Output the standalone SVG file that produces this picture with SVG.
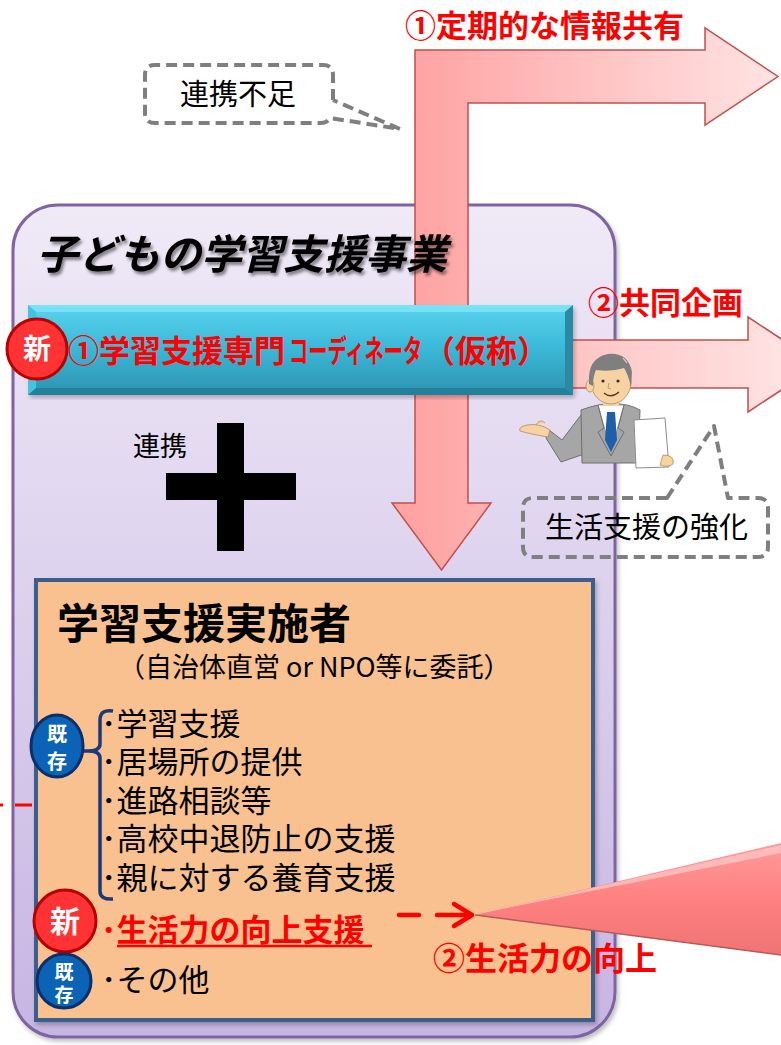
<svg xmlns="http://www.w3.org/2000/svg" width="781" height="1045" viewBox="0 0 781 1045">
  <defs>
    <style>
      .jp { font-family: "Noto Sans CJK JP", "Noto Sans", sans-serif; }
      .red { fill: #ff0000; font-weight: 700; }
      .item { font-size: 31px; fill: #000; }
      .badge { fill: #fff; font-weight: 700; text-anchor: middle; }
      .callout { fill: none; stroke: #7f7f7f; stroke-width: 4; stroke-dasharray: 11 6; stroke-linejoin: round; }
      .pinkEdge { stroke: #c0504d; stroke-width: 1.5; }
    </style>
    <linearGradient id="purpleFill" x1="0" y1="0" x2="0" y2="1">
      <stop offset="0" stop-color="#f0eaf7"/>
      <stop offset="1" stop-color="#c7b5e3"/>
    </linearGradient>
    <linearGradient id="lArrowFill" gradientUnits="userSpaceOnUse" x1="415" y1="0" x2="781" y2="0">
      <stop offset="0" stop-color="#ffa3a3"/>
      <stop offset="1" stop-color="#ffe4e4"/>
    </linearGradient>
    <linearGradient id="planArrowFill" gradientUnits="userSpaceOnUse" x1="560" y1="0" x2="781" y2="0">
      <stop offset="0" stop-color="#ffc2c2"/>
      <stop offset="1" stop-color="#ffe2e2"/>
    </linearGradient>
    <linearGradient id="barFill" x1="0" y1="0" x2="0" y2="1">
      <stop offset="0" stop-color="#5ad3ee"/>
      <stop offset="0.45" stop-color="#3cbad9"/>
      <stop offset="1" stop-color="#2c93b0"/>
    </linearGradient>
    <linearGradient id="coneFill" gradientUnits="userSpaceOnUse" x1="0" y1="845" x2="0" y2="955">
      <stop offset="0" stop-color="#ff9a9a"/>
      <stop offset="0.5" stop-color="#ff8080"/>
      <stop offset="1" stop-color="#f07474"/>
    </linearGradient>
    <filter id="softShadow" x="-5%" y="-5%" width="110%" height="110%">
      <feDropShadow dx="2" dy="3" stdDeviation="2" flood-color="#000" flood-opacity="0.25"/>
    </filter>
    <filter id="titleShadow" x="-5%" y="-20%" width="110%" height="150%">
      <feDropShadow dx="2" dy="3" stdDeviation="1.5" flood-color="#000" flood-opacity="0.45"/>
    </filter>
  </defs>

  <rect width="781" height="1045" fill="#ffffff"/>

  <!-- outer programme frame -->
  <g id="program-frame">
    <rect x="13" y="205" width="602" height="832" rx="45" fill="url(#purpleFill)" stroke="#8064a2" stroke-width="3" filter="url(#softShadow)"/>
  </g>

  <!-- provider box -->
  <g id="provider">
    <rect x="36" y="580" width="557" height="440" fill="#f8c18f" stroke="#3b5e8c" stroke-width="4" filter="url(#softShadow)"/>
    <text class="jp" x="57" y="639" font-size="42" font-weight="700" fill="#000">学習支援実施者</text>
    <text class="jp" x="118" y="677" font-size="27" fill="#000">（自治体直営 or NPO等に委託）</text>
  </g>

  <!-- connectors -->
  <g id="connectors">
    <!-- ① regular information sharing: bent arrow -->
    <path class="pinkEdge" fill="url(#lArrowFill)" d="M415,503 L415,50 L705,50 L705,28 L778,76.5 L705,125 L705,103 L468,103 L468,503 L491,503 L441.5,570 L392,503 Z"/>
    <!-- ② joint planning arrow -->
    <path class="pinkEdge" fill="url(#planArrowFill)" d="M560,340 L748,340 L748,317 L820,364.5 L748,412 L748,388 L560,388 Z"/>
    <!-- ② improving life skills: cone -->
    <path d="M475,915 L781,843 L781,955 Z" fill="url(#coneFill)"/>
    <path d="M477,914 L781,845 L781,853 Z" fill="#ffc4c4" opacity="0.8"/>
    <path d="M475,915 L781,955" stroke="#b45a5a" stroke-width="1.5" fill="none"/>
    <!-- dashed red pointer -->
    <g stroke="#ff0000" stroke-width="4.5" fill="none" stroke-linecap="round" stroke-linejoin="round">
      <line x1="399" y1="915" x2="419" y2="915"/>
      <line x1="437" y1="915" x2="468" y2="915"/>
      <polyline points="454,904 472,915 454,926"/>
      <line x1="0" y1="805" x2="3" y2="805" stroke-linecap="butt" stroke-width="3"/>
      <line x1="15" y1="805" x2="32" y2="805" stroke-linecap="butt" stroke-width="3"/>
    </g>
    <!-- bracket linking the existing items -->
    <path d="M83,751 L97,751 M113,711 Q100,709 100,720 L100,744 Q100,751 88,751 Q100,751 100,758 L100,891 Q100,900 113,899" fill="none" stroke="#1b3a78" stroke-width="3.5"/>
  </g>

  <!-- programme title, printed over the arrow shaft -->
  <g id="program-title">
    <text class="jp" x="37" y="269" font-size="41" font-weight="700" font-style="italic" fill="#000" filter="url(#titleShadow)">子どもの学習支援事業</text>
  </g>

  <!-- coordinator bar -->
  <g id="coordinator">
    <g filter="url(#softShadow)">
      <rect x="28" y="305" width="545" height="90" fill="url(#barFill)"/>
      <polygon points="28,305 573,305 565,312 36,312" fill="#7fe6f8" opacity="0.8"/>
      <polygon points="573,305 573,395 565,388 565,312" fill="#2b8aa5"/>
      <polygon points="28,395 573,395 565,388 36,388" fill="#24809a"/>
      <polygon points="28,305 36,312 36,388 28,395" fill="#45c2df"/>
    </g>
    <text class="jp red" x="68" y="362" font-size="31">①学習支援専門</text>
    <text class="jp red" transform="translate(289,362) scale(0.62,1)" font-size="31">コーディネータ</text>
    <text class="jp red" font-size="31" y="362"><tspan x="424">（</tspan><tspan x="455">仮</tspan><tspan x="486">称</tspan><tspan x="517">）</tspan></text>
  </g>

  <g id="badge-new-coordinator">
    <circle cx="37" cy="349" r="30" fill="#ff3333" stroke="#b80000" stroke-width="3"/>
    <text class="jp badge" x="37" y="359" font-size="28">新</text>
  </g>

  <!-- cooperation plus -->
  <g id="cooperation">
    <text class="jp" x="133" y="456" font-size="27" fill="#000">連携</text>
    <rect x="217" y="423" width="27" height="128" fill="#000"/>
    <rect x="166" y="473" width="130" height="27" fill="#000"/>
  </g>

  <!-- list of services -->
  <g id="services">
    <text class="jp item">
      <tspan x="101" y="735">･学習支援</tspan>
      <tspan x="101" y="773">･居場所の提供</tspan>
      <tspan x="101" y="812">･進路相談等</tspan>
      <tspan x="101" y="850">･高校中退防止の支援</tspan>
      <tspan x="101" y="889">･親に対する養育支援</tspan>
      <tspan x="101" y="941" class="red">･生活力の向上支援</tspan>
      <tspan x="101" y="991">･その他</tspan>
    </text>
    <line x1="117" y1="946" x2="372" y2="946" stroke="#ff0000" stroke-width="2.5"/>
  </g>

  <g id="badge-existing-1">
    <ellipse cx="57" cy="746" rx="26" ry="31" fill="#0b63b6" stroke="#0c2f6a" stroke-width="3"/>
    <text class="jp badge" font-size="20"><tspan x="57" y="742">既</tspan><tspan x="57" y="769">存</tspan></text>
  </g>
  <g id="badge-new-life">
    <circle cx="65" cy="921" r="31" fill="#ff3333" stroke="#b80000" stroke-width="3"/>
    <text class="jp badge" x="65" y="932" font-size="30">新</text>
  </g>
  <g id="badge-existing-2">
    <circle cx="64" cy="981" r="27" fill="#0b63b6" stroke="#0c2f6a" stroke-width="3"/>
    <text class="jp badge" font-size="19"><tspan x="64" y="979">既</tspan><tspan x="64" y="1002">存</tspan></text>
  </g>

  <!-- person with a document -->
  <g id="advisor">
    <!-- extended arm -->
    <polygon points="584,411 562,440 549,430 546,438 561,462 590,452" fill="#a6a6a6" stroke="#6f6f6f" stroke-width="1"/>
    <path d="M550,430 Q540,423 527,425 Q518,427 520,431 Q530,434 548,437 Z" fill="#f7d3a3" stroke="#b08a5a" stroke-width="0.8"/>
    <path d="M536,425 Q540,418 545,423" fill="#f7d3a3" stroke="#b08a5a" stroke-width="0.8"/>
    <!-- suit -->
    <path d="M581,410 Q600,403 612,404 Q628,403 640,410 L638,463 L582,463 Z" fill="#a6a6a6" stroke="#6f6f6f" stroke-width="1"/>
    <polygon points="598,405 624,405 611,452" fill="#ffffff" stroke="#8c8c8c" stroke-width="0.8"/>
    <polygon points="607,412 615,412 617,440 611,452 605,440" fill="#1f5fa8"/>
    <path d="M598,405 L604,428 L598,432 L611,456 M624,405 L618,428 L624,432 L611,456" fill="none" stroke="#6f6f6f" stroke-width="1"/>
    <!-- neck and head -->
    <rect x="603" y="396" width="16" height="10" fill="#f7d3a3"/>
    <ellipse cx="611" cy="382" rx="20" ry="22" fill="#f7d3a3" stroke="#b08a5a" stroke-width="0.8"/>
    <ellipse cx="590" cy="386" rx="4" ry="6" fill="#f7d3a3" stroke="#b08a5a" stroke-width="0.8"/>
    <path d="M589,384 Q587,358 608,354 Q628,352 632,372 L631,387 Q628,374 624,368 Q612,372 596,370 Q593,376 593,386 Z" fill="#7f7f7f"/>
    <path d="M623,358 L627,363 M626,357 L630,362" stroke="#d9d9d9" stroke-width="1.2"/>
    <circle cx="603" cy="381" r="1.6" fill="#333"/>
    <circle cx="618" cy="381" r="1.6" fill="#333"/>
    <path d="M604,393 Q611,399 619,392" fill="none" stroke="#5a3a1a" stroke-width="1.4"/>
    <path d="M609,383 L608,388 L611,389" fill="none" stroke="#b08a5a" stroke-width="0.8"/>
    <!-- document -->
    <polygon points="634,420 665,418 669,467 636,468" fill="#ffffff" stroke="#8c8c8c" stroke-width="1"/>
    <path d="M663,455 Q675,455 673,464 Q668,468 660,465 Z" fill="#f7d3a3" stroke="#b08a5a" stroke-width="0.8"/>
  </g>

  <!-- callout: lack of cooperation -->
  <g id="callout-cooperation">
    <path class="callout" d="M333,100 L333,75 Q333,65 323,65 L155,65 Q145,65 145,75 L145,113 Q145,123 155,123 L321,123 Q327,123 330,118 L400,129 L333,100"/>
    <text class="jp" x="180" y="105" font-size="29" fill="#000">連携不足</text>
  </g>

  <!-- callout: stronger life support -->
  <g id="callout-life">
    <path class="callout" d="M667,498 L533,498 Q523,498 523,508 L523,547 Q523,557 533,557 L758,557 Q768,557 768,547 L768,508 Q768,498 758,498 L728,498 L714,426 Z"/>
    <text class="jp" x="545" y="538" font-size="29" fill="#000">生活支援の強化</text>
  </g>

  <!-- connector labels -->
  <g id="labels">
    <text class="jp red" x="405" y="37" font-size="31">①定期的な情報共有</text>
    <text class="jp red" x="588" y="314" font-size="31">②共同企画</text>
    <text class="jp red" x="433" y="970" font-size="32">②生活力の向上</text>
  </g>
</svg>
